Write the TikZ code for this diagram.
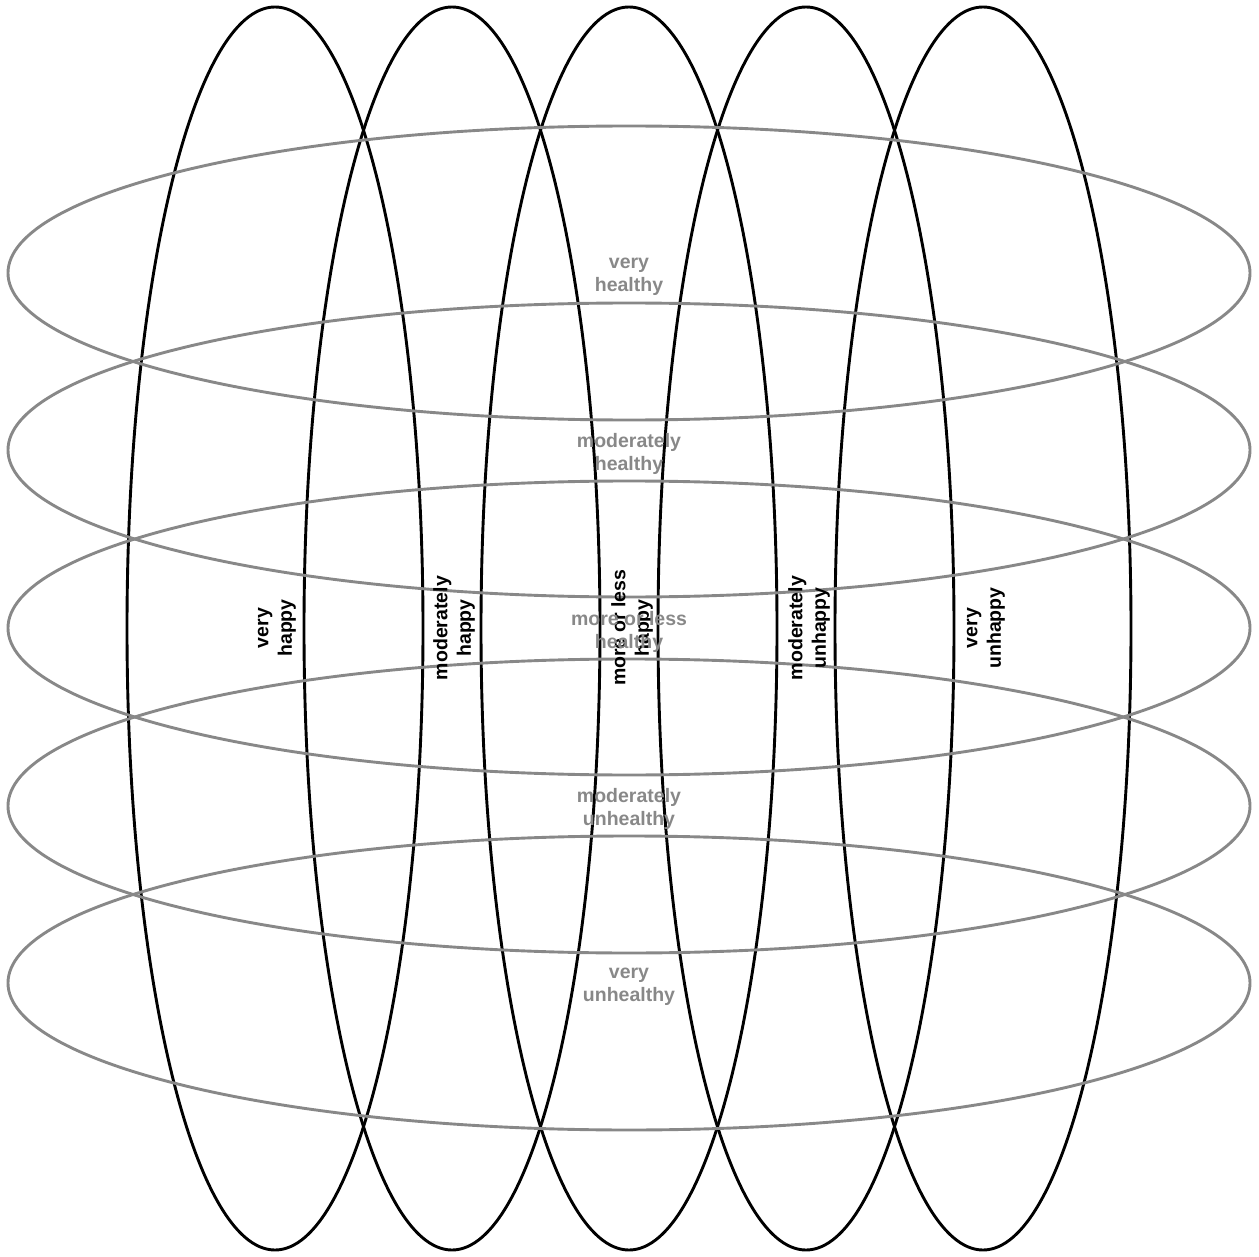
\documentclass[tikz,border=0pt]{standalone}
\usepackage{fontspec}
\setmainfont{Liberation Sans}
\begin{document}
\begin{tikzpicture}[x=1pt,y=-1pt,
  vell/.style={draw=black,line width=2.9pt},
  hell/.style={draw=graycol,line width=2.9pt},
  vlab/.style={text=black,font=\bfseries\fontsize{19.5}{23.5}\selectfont,align=center,rotate=90,inner sep=0pt},
  hlab/.style={text=graycol,font=\bfseries\fontsize{19.5}{23.5}\selectfont,align=center,inner sep=0pt}]
\definecolor{graycol}{HTML}{888888}
\useasboundingbox (0,0) rectangle (1259,1257);
% vertical (black) ellipses
\foreach \i/\x in {1/275,2/452,3/629,4/806,5/983}{
  \path[vell] (\x,628.5) ellipse [x radius=148, y radius=621.5];
  \coordinate (v\i) at (\x,628.5);
}
% horizontal (gray) ellipses
\foreach \i/\y in {1/273,2/450,3/628,4/806,5/983}{
  \path[hell] (629,\y) ellipse [x radius=621, y radius=147];
  \coordinate (h\i) at (629,\y);
}
\node[vlab] (lv1) at (277,628) {very\\happy};
\node[vlab] (lv2) at (454,628) {moderately\\happy};
\node[vlab] (lv3) at (632,628) {more or less\\happy};
\node[vlab] (lv4) at (809,628) {moderately\\unhappy};
\node[vlab] (lv5) at (986,628) {very\\unhappy};
\node[hlab] (lh1) at (629,277) {very\\healthy};
\node[hlab] (lh2) at (629,454) {moderately\\healthy};
\node[hlab] (lh3) at (629,632) {more or less\\healthy};
\node[hlab] (lh4) at (629,809) {moderately\\unhealthy};
\node[hlab] (lh5) at (629,987) {very\\unhealthy};
\end{tikzpicture}
\end{document}
